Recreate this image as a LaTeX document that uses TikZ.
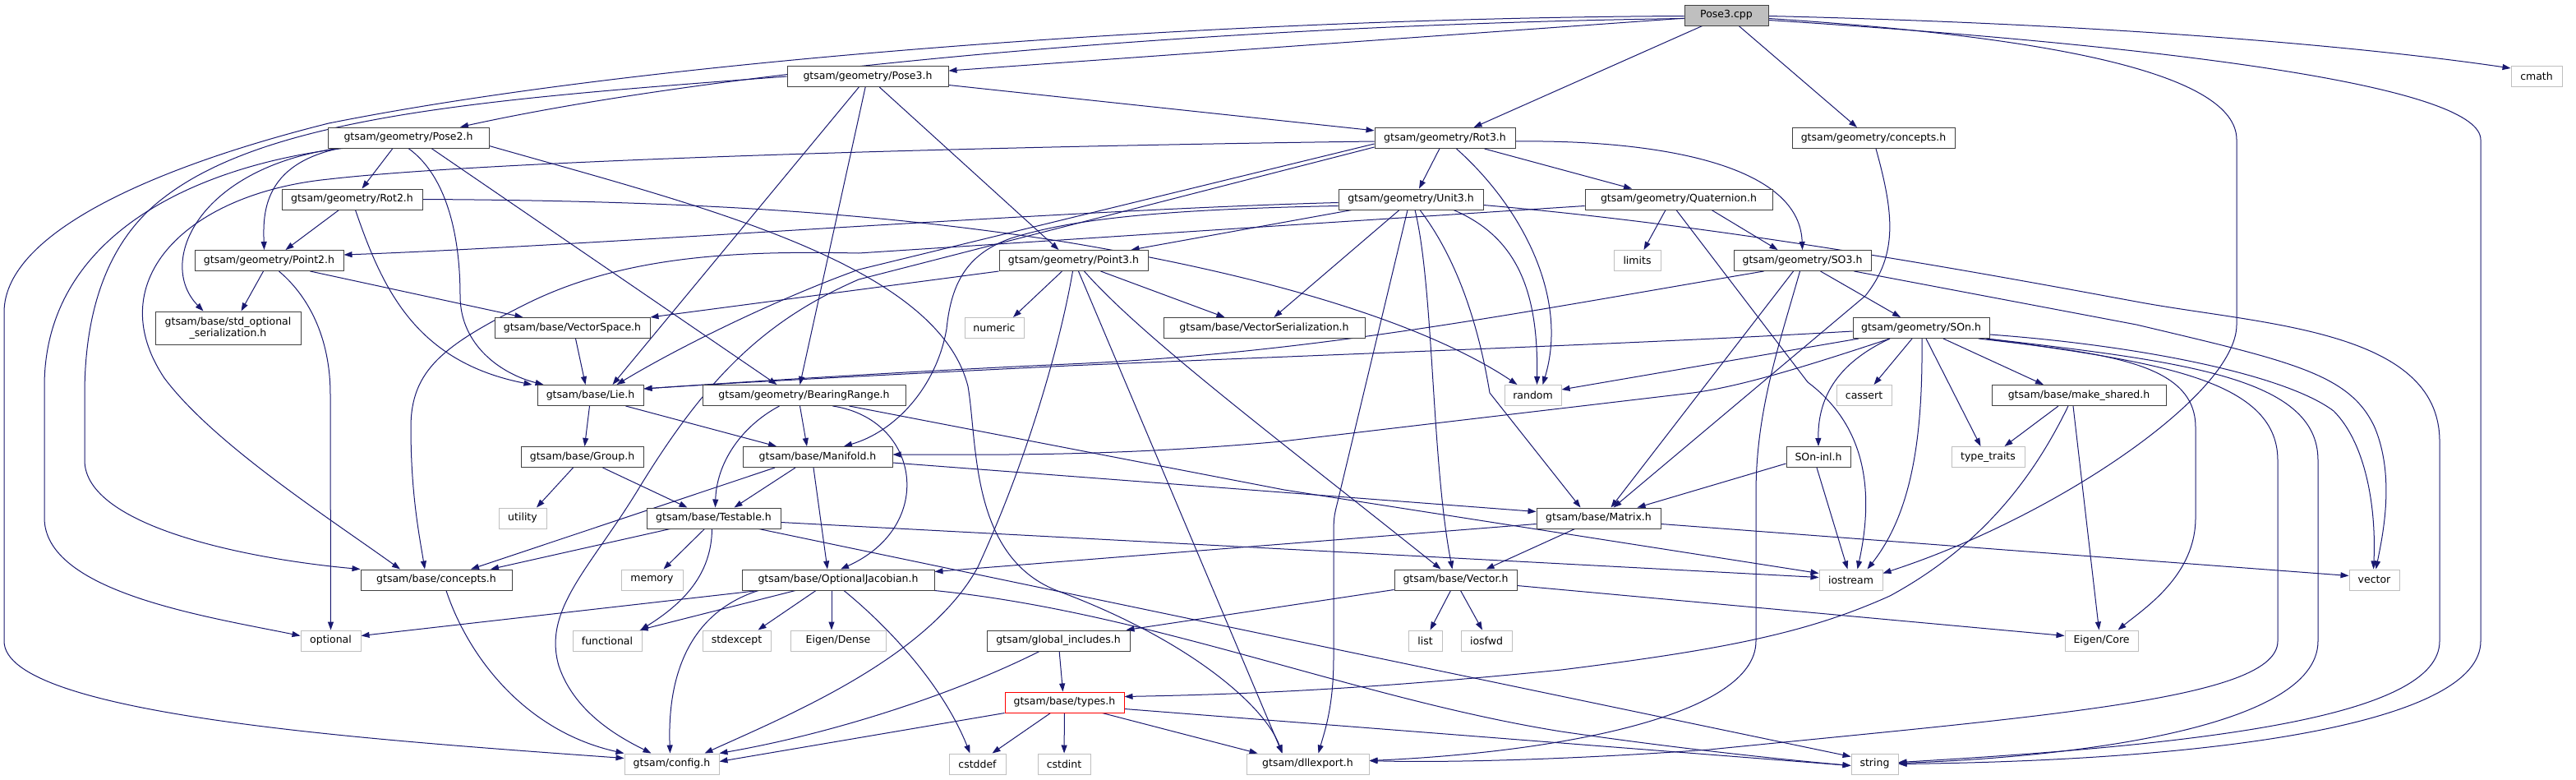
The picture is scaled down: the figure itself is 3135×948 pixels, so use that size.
\documentclass[tikz,border=0pt]{standalone}
\usepackage{fontspec}
\setmainfont{DejaVu Sans}
\usetikzlibrary{arrows.meta}
\definecolor{edgec}{HTML}{191970}
\definecolor{greyf}{HTML}{BFBFBF}
\definecolor{nodeb}{HTML}{404040}
\pgfdeclarelayer{back}
\pgfdeclarelayer{bg}
\pgfsetlayers{back,bg,main}
\newcommand{\dxfont}{\fontsize{12.5}{14}\selectfont}
\begin{document}
\begin{tikzpicture}[x=1pt,y=-1pt,
 nd/.style={rectangle,draw=nodeb,line width=1pt,fill=white,minimum height=25pt,inner sep=0pt,font=\dxfont,text=black},
 ex/.style={nd,draw=greyf},
 e/.style={draw=edgec,line width=1pt,-{Triangle[length=10pt,width=7pt]}}]
\useasboundingbox (0,0) rectangle (3135,948);
\begin{pgfonlayer}{back}
\fill[white] (0,0) rectangle (3135,948);
\end{pgfonlayer}
% nodes
\node[nd,fill=greyf,minimum width=102pt] (P3c) at (2101,18.5) {Pose3.cpp};
\node[nd,minimum width=196pt] (P3h) at (1056,93) {gtsam/geometry/Pose3.h};
\node[nd,minimum width=196pt] (P2h) at (497,167.5) {gtsam/geometry/Pose2.h};
\node[nd,minimum width=171pt] (R3) at (1758.5,168) {gtsam/geometry/Rot3.h};
\node[nd,minimum width=198pt] (GC) at (2280,168) {gtsam/geometry/concepts.h};
\node[ex,minimum width=62pt] (cmath) at (3087,93) {cmath};
\node[nd,minimum width=171pt] (R2) at (428.5,242.5) {gtsam/geometry/Rot2.h};
\node[nd,minimum width=176pt] (U3) at (1717,242.5) {gtsam/geometry/Unit3.h};
\node[nd,minimum width=228pt] (Q) at (2043,242.5) {gtsam/geometry/Quaternion.h};
\node[nd,minimum width=181pt] (Pt2) at (327.5,317) {gtsam/geometry/Point2.h};
\node[nd,minimum width=181pt] (Pt3) at (1306.5,317) {gtsam/geometry/Point3.h};
\node[ex,minimum width=57pt] (limits) at (1992.5,317) {limits};
\node[nd,minimum width=167pt] (SO3) at (2193.5,317) {gtsam/geometry/SO3.h};
\node[nd,minimum width=177pt,minimum height=40pt,align=center] (SOS) at (277.5,399) {gtsam/base/std\_optional\\\_serialization.h};
\node[nd,minimum width=189pt] (VS) at (696.5,399) {gtsam/base/VectorSpace.h};
\node[ex,minimum width=72pt] (numeric) at (1210,399) {numeric};
\node[nd,minimum width=245pt] (VSer) at (1538.5,399) {gtsam/base/VectorSerialization.h};
\node[nd,minimum width=166pt] (SOn) at (2338,399) {gtsam/geometry/SOn.h};
\node[nd,minimum width=129pt] (Lie) at (718.5,481) {gtsam/base/Lie.h};
\node[nd,minimum width=247pt] (BR) at (978.5,481) {gtsam/geometry/BearingRange.h};
\node[ex,minimum width=69pt] (random) at (1865.5,481) {random};
\node[ex,minimum width=67pt] (cassert) at (2268.5,481) {cassert};
\node[nd,minimum width=212pt] (MS) at (2530,481) {gtsam/base/make\_shared.h};
\node[nd,minimum width=149pt] (Grp) at (708.5,556) {gtsam/base/Group.h};
\node[nd,minimum width=182pt] (Man) at (995,556) {gtsam/base/Manifold.h};
\node[nd,minimum width=78pt] (SOnInl) at (2213,556) {SOn-inl.h};
\node[ex,minimum width=89pt] (tt) at (2419.5,556) {type\_traits};
\node[ex,minimum width=58pt] (util) at (636,630.5) {utility};
\node[nd,minimum width=163pt] (Test) at (868.5,630.5) {gtsam/base/Testable.h};
\node[nd,minimum width=151pt] (Mat) at (1945.5,630.5) {gtsam/base/Matrix.h};
\node[nd,minimum width=184pt] (BC) at (531,705.5) {gtsam/base/concepts.h};
\node[ex,minimum width=75pt] (memory) at (793.5,705.5) {memory};
\node[nd,minimum width=234pt] (OJ) at (1020,705.5) {gtsam/base/OptionalJacobian.h};
\node[nd,minimum width=149pt] (Vec) at (1771.5,705.5) {gtsam/base/Vector.h};
\node[ex,minimum width=77pt] (iostream) at (2252.5,705.5) {iostream};
\node[ex,minimum width=61pt] (vector) at (2889.5,705.5) {vector};
\node[ex,minimum width=73pt] (optional) at (402.5,779.5) {optional};
\node[ex,minimum width=84pt] (functional) at (739,779.5) {functional};
\node[ex,minimum width=83pt] (stdexcept) at (896.5,779.5) {stdexcept};
\node[ex,minimum width=116pt] (EDense) at (1020,779.5) {Eigen/Dense};
\node[nd,minimum width=174pt] (GI) at (1288,779.5) {gtsam/global\_includes.h};
\node[ex,minimum width=41pt] (list) at (1734.5,779.5) {list};
\node[ex,minimum width=62pt] (iosfwd) at (1809,779.5) {iosfwd};
\node[ex,minimum width=89pt] (ECore) at (2557.5,779.5) {Eigen/Core};
\node[nd,draw=red,minimum width=145pt] (types) at (1295.5,854.5) {gtsam/base/types.h};
\node[ex,minimum width=115pt] (config) at (817.5,929.5) {gtsam/config.h};
\node[ex,minimum width=69pt] (cstddef) at (1189.5,929.5) {cstddef};
\node[ex,minimum width=64pt] (cstdint) at (1295,929.5) {cstdint};
\node[ex,minimum width=149pt] (dll) at (1591.5,929.5) {gtsam/dllexport.h};
\node[ex,minimum width=57pt] (string) at (2281.5,929.5) {string};
\begin{pgfonlayer}{bg}
% Pose3.cpp
\draw[e] (P3c) -- (P3h);
\draw[e] ([yshift=-4pt]P3c.west) .. controls (1500,30) and (900,80) .. ([xshift=63pt]P2h.north);
\draw[e] (P3c) -- ([xshift=35pt]R3.north);
\draw[e] (P3c) -- ([xshift=-20pt]GC.north);
\draw[e] ([yshift=-1pt]P3c.east) .. controls (2600,30) and (2900,60) .. ([yshift=10pt]cmath.west);
\draw[e] ([yshift=-4pt]P3c.east) .. controls (2500,45) and (2722,90) .. (2722,170) -- (2722,395) .. controls (2722,480) and (2500,630) .. ([yshift=8pt]iostream.east);
\draw[e] ([yshift=-6pt]P3c.east) .. controls (2700,60) and (3019,110) .. (3019,170) -- (3019,780) .. controls (3019,880) and (2700,925) .. (string.east);
\draw[e] ([yshift=-1pt]P3c.west) .. controls (1500,22) and (800,70) .. (400,150) .. controls (200,200) and (5,280) .. (5,380) -- (5,780) .. controls (5,870) and (450,900) .. ([yshift=7pt]config.west);
% Pose3.h
\draw[e] (P3h) -- (R3);
\draw[e] (P3h) -- ([xshift=-18pt]Pt3.north);
\draw[e] (P3h) -- ([xshift=-5pt]BR.north);
\draw[e] (P3h) -- ([xshift=27pt]Lie.north);
\draw[e] (P3h.west) .. controls (600,120) and (330,140) .. (200,240) .. controls (120,300) and (103,400) .. (103,480) -- (103,560) .. controls (103,640) and (300,680) .. (BC.north west);
% Pose2.h
\draw[e] ([xshift=-19pt]P2h.south) -- ([xshift=12pt]R2.north);
\draw[e] ([xshift=-84pt]P2h.south) .. controls (320,200) and (320,260) .. ([xshift=-6pt]Pt2.north);
\draw[e] ([xshift=-86pt]P2h.south) .. controls (240,205) and (190,320) .. ([xshift=-30pt]SOS.north);
\draw[e] ([xshift=-80pt]P2h.south) .. controls (250,200) and (54,280) .. (54,470) -- (54,630) .. controls (54,720) and (250,750) .. ([yshift=6pt]optional.west);
\draw[e] (P2h.south) .. controls (545,215) and (560,290) .. (560,360) .. controls (560,420) and (610,455) .. ([xshift=-57pt]Lie.north);
\draw[e] ([xshift=28pt]P2h.south) -- ([xshift=-33pt]BR.north);
\draw[e] ([yshift=-10pt]P2h.east) .. controls (850,250) and (1140,320) .. (1178,470) .. controls (1190,540) and (1180,680) .. (1290,720) .. controls (1450,780) and (1540,860) .. ([xshift=-31pt]dll.north);
% Rot2.h
\draw[e] ([xshift=-16pt]R2.south) -- ([xshift=20pt]Pt2.north);
\draw[e] ([xshift=4pt]R2.south) .. controls (465,350) and (505,440) .. ([xshift=-71pt]Lie.north);
\draw[e] (R2.east) .. controls (800,244) and (1050,255) .. (1300,295) .. controls (1600,345) and (1760,410) .. ([xshift=-19pt]random.north);
% Rot3.h
\draw[e] (R3) -- ([xshift=10pt]U3.north);
\draw[e] (R3) -- ([xshift=-57pt]Q.north);
\draw[e] ([yshift=-4pt]R3.east) .. controls (2000,170) and (2190,195) .. (SO3.north);
\draw[e] ([yshift=-4pt]R3.west) .. controls (1200,178) and (600,195) .. (400,218) .. controls (230,235) and (120,340) .. (200,460) .. controls (260,540) and (400,630) .. ([xshift=-44pt]BC.north);
\draw[e] ([yshift=-7pt]R3.west) -- (1045,328) .. controls (950,362) and (830,420) .. ([xshift=32pt]Lie.north);
\draw[e] ([yshift=-11pt]R3.west) -- (1045,340) .. controls (930,390) and (860,460) .. (780,590) .. controls (720,690) and (660,740) .. (680,810) .. controls (700,870) and (760,900) .. ([xshift=-25pt]config.north);
\draw[e] ([xshift=14pt]R3.south) .. controls (1850,250) and (1910,360) .. ([xshift=12pt]random.north);
% Unit3.h
\draw[e] ([yshift=-4pt]U3.west) .. controls (1300,255) and (700,300) .. ([yshift=7pt]Pt2.east);
\draw[e] (U3) -- ([xshift=70pt]Pt3.north);
\draw[e] ([yshift=-8pt]U3.west) .. controls (1400,255) and (1300,268) .. (1230,290) .. controls (1180,308) and (1158,340) .. (1152,400) .. controls (1140,470) and (1090,525) .. ([xshift=32pt]Man.north);
\draw[e] ([xshift=11pt]U3.south) .. controls (1785,330) and (1805,430) .. (1813,478) -- ([xshift=-22pt]Mat.north);
\draw[e] ([xshift=5pt]U3.south) .. controls (1745,350) and (1742,560) .. ([xshift=-4pt]Vec.north);
\draw[e] ([xshift=-14pt]U3.south) -- ([xshift=12pt]VSer.north);
\draw[e] ([xshift=-4pt]U3.south) -- (1628,610) .. controls (1623,630) .. (1623,660) -- (1623,800) .. controls (1623,860) and (1612,890) .. ([xshift=13pt]dll.north);
\draw[e] ([xshift=52pt]U3.south) .. controls (1850,290) and (1872,360) .. ([xshift=5pt]random.north);
\draw[e] ([yshift=-7pt]U3.east) .. controls (2100,275) and (2400,330) .. (2600,367) .. controls (2750,395) and (2969,400) .. (2969,537) -- (2969,780) .. controls (2969,870) and (2700,905) .. ([yshift=2pt]string.east);
% Quaternion.h
\draw[e] ([xshift=40pt]Q.south) -- ([xshift=-30pt]SO3.north);
\draw[e] ([xshift=-16pt]Q.south) -- ([xshift=8pt]limits.north);
\draw[e] ([yshift=-8pt]Q.west) -- (1045,308) .. controls (900,305) and (760,310) .. (640,370) .. controls (540,420) and (500,450) .. (500,520) .. controls (500,600) and (510,650) .. ([xshift=-14pt]BC.north);
\draw[e] ([xshift=-3pt]Q.south) -- (2200,465) .. controls (2260,510) and (2285,580) .. ([xshift=8pt]iostream.north);
% Point2.h
\draw[e] ([xshift=-7pt]Pt2.south) -- ([xshift=16pt]SOS.north);
\draw[e] ([xshift=12pt]Pt2.south) .. controls (375,360) and (402,410) .. (402,480) -- (optional.north);
\draw[e] ([xshift=50pt]Pt2.south) -- ([xshift=-60pt]VS.north);
% Point3.h
\draw[e] (Pt3.south west) -- (VS.north east);
\draw[e] ([xshift=-14pt]Pt3.south) -- ([xshift=23pt]numeric.north);
\draw[e] ([xshift=33pt]Pt3.south) -- ([xshift=-48pt]VSer.north);
\draw[e] ([xshift=13pt]Pt3.south) .. controls (1390,410) and (1550,530) .. ([xshift=-18pt]Vec.north);
\draw[e] ([xshift=6pt]Pt3.south) -- ([xshift=-31pt]dll.north);
\draw[e] ([xshift=-1pt]Pt3.south) .. controls (1290,420) and (1250,560) .. (1190,690) .. controls (1130,800) and (960,870) .. ([xshift=40pt]config.north);
% SO3.h
\draw[e] ([xshift=22pt]SO3.south) -- ([xshift=-25pt]SOn.north);
\draw[e] ([xshift=-47pt]SO3.south) .. controls (1850,380) and (1600,430) .. (1300,443) .. controls (1100,452) and (900,465) .. ([yshift=8pt]Lie.east);
\draw[e] ([xshift=-11pt]SO3.south) -- ([xshift=15pt]Mat.north);
\draw[e] ([xshift=-3pt]SO3.south) .. controls (2165,420) and (2137,500) .. (2137,600) -- (2137,780) .. controls (2137,870) and (1900,915) .. ([yshift=4pt]dll.east);
\draw[e] ([xshift=63pt]SO3.south) -- (2600,395) .. controls (2790,440) and (2860,455) .. (2890,520) .. controls (2915,580) and (2900,650) .. ([xshift=2pt]vector.north);
% SOn.h
\draw[e] ([yshift=-4pt]SOn.west) .. controls (2000,418) and (1700,428) .. (1300,445) .. controls (1100,455) and (900,465) .. ([yshift=8pt]Lie.east);
\draw[e] ([xshift=-76pt]SOn.south) -- ([yshift=7pt]random.east);
\draw[e] ([xshift=-38pt]SOn.south) .. controls (2200,445) and (2120,470) .. (2060,478) -- (1560,537) .. controls (1350,556) and (1200,553) .. ([yshift=3pt]Man.east);
\draw[e] ([xshift=-11pt]SOn.south) -- ([xshift=12pt]cassert.north);
\draw[e] ([xshift=-38pt]SOn.south) .. controls (2240,440) and (2212,480) .. (SOnInl.north);
\draw[e] ([xshift=1pt]SOn.south) .. controls (2340,520) and (2330,620) .. ([xshift=20pt]iostream.north);
\draw[e] ([xshift=6pt]SOn.south) -- ([xshift=-9pt]tt.north);
\draw[e] ([xshift=27pt]SOn.south) -- ([xshift=-43pt]MS.north);
\draw[e] ([yshift=-8pt]SOn.east) .. controls (2600,420) and (2780,455) .. (2840,500) .. controls (2880,540) and (2892,620) .. ([xshift=-1pt]vector.north);
\draw[e] ([xshift=70pt]SOn.south) .. controls (2560,430) and (2672,440) .. (2672,520) -- (2672,630) .. controls (2672,700) and (2610,740) .. ([xshift=20pt]ECore.north);
\draw[e] ([xshift=79pt]SOn.south) .. controls (2620,440) and (2772,460) .. (2772,560) -- (2772,780) .. controls (2772,850) and (2500,870) .. (2080,912) .. controls (1900,925) and (1750,928) .. ([yshift=4pt]dll.east);
\draw[e] ([xshift=80pt]SOn.south) .. controls (2660,440) and (2821,460) .. (2821,560) -- (2821,780) .. controls (2821,890) and (2500,922) .. ([yshift=1pt]string.east);
% geometry/concepts.h
\draw[e] ([xshift=3pt]GC.south) .. controls (2305,260) and (2310,310) .. (2270,360) -- ([xshift=18pt]Mat.north);
% VectorSpace.h
\draw[e] ([xshift=4pt]VS.south) -- ([xshift=-6pt]Lie.north);
% Lie.h
\draw[e] ([xshift=-1pt]Lie.south) -- ([xshift=3pt]Grp.north);
\draw[e] ([xshift=43pt]Lie.south) -- ([xshift=-50pt]Man.north);
% BearingRange.h
\draw[e] ([xshift=-5pt]BR.south) -- ([xshift=-13pt]Man.north);
\draw[e] ([xshift=-30pt]BR.south) .. controls (900,520) and (872,565) .. ([xshift=2pt]Test.north);
\draw[e] ([xshift=35pt]BR.south) .. controls (1120,510) and (1140,640) .. ([xshift=3pt]OJ.north);
\draw[e] ([xshift=55pt]BR.south) -- (1563,596) -- ([yshift=8pt]iostream.west);
% Group.h
\draw[e] ([xshift=-11pt]Grp.south) -- ([xshift=17pt]util.north);
\draw[e] ([xshift=25pt]Grp.south) -- ([xshift=-32pt]Test.north);
% Manifold.h
\draw[e] ([xshift=-27pt]Man.south) -- ([xshift=25pt]Test.north);
\draw[e] ([xshift=-5pt]Man.south) -- ([xshift=-13pt]OJ.north);
\draw[e] ([yshift=-7pt]Man.east) -- ([yshift=8pt]Mat.west);
\draw[e] ([xshift=-52pt]Man.south) -- ([xshift=42pt]BC.north);
% Testable.h
\draw[e] ([xshift=-53pt]Test.south) -- ([xshift=66pt]BC.north);
\draw[e] ([xshift=-11pt]Test.south) -- ([xshift=14pt]memory.north);
\draw[e] ([xshift=-2pt]Test.south) .. controls (866,700) and (830,735) .. ([xshift=-2pt]functional.north east);
\draw[e] ([yshift=-5pt]Test.east) -- ([yshift=3pt]iostream.west);
\draw[e] ([xshift=55pt]Test.south) -- ([yshift=9pt]string.west);
% SOn-inl.h
\draw[e] ([yshift=-8pt]SOnInl.west) -- ([xshift=47pt]Mat.north);
\draw[e] ([xshift=-2pt]SOnInl.south) -- ([xshift=-4pt]iostream.north);
% make_shared.h
\draw[e] ([xshift=-25pt]MS.south) -- ([xshift=20pt]tt.north);
\draw[e] ([xshift=-7pt]MS.south) -- ([xshift=-3pt]ECore.north);
\draw[e] ([xshift=-13pt]MS.south) .. controls (2480,570) and (2420,660) .. (2300,725) .. controls (2200,770) and (2100,790) .. (1900,815) .. controls (1650,840) and (1500,845) .. ([yshift=7pt]types.east);
% Matrix.h
\draw[e] ([xshift=-29pt]Mat.south) -- ([xshift=37pt]Vec.north);
\draw[e] ([yshift=-7pt]Mat.west) -- ([yshift=10pt]OJ.east);
\draw[e] ([yshift=-7pt]Mat.east) -- ([yshift=5pt]vector.west);
% Vector.h
\draw[e] ([xshift=-6pt]Vec.south) -- ([xshift=6pt]list.north);
\draw[e] ([xshift=6pt]Vec.south) -- ([xshift=-5pt]iosfwd.north);
\draw[e] ([yshift=-12pt]Vec.west) -- ([xshift=-5pt]GI.north east);
\draw[e] ([yshift=-7pt]Vec.east) -- ([yshift=6pt]ECore.west);
% OptionalJacobian.h
\draw[e] ([xshift=-97pt]OJ.south) -- ([yshift=6pt]optional.east);
\draw[e] ([xshift=-52pt]OJ.south) -- ([xshift=-3pt]functional.north east);
\draw[e] ([xshift=-27pt]OJ.south) -- ([xshift=26pt]stdexcept.north);
\draw[e] ([xshift=-8pt]OJ.south) -- ([xshift=-8pt]EDense.north);
\draw[e] ([xshift=-97pt]OJ.south) .. controls (840,745) and (812,820) .. ([xshift=-2pt]config.north);
\draw[e] ([xshift=7pt]OJ.south) .. controls (1090,770) and (1150,840) .. ([xshift=-9pt]cstddef.north);
\draw[e] (OJ.south east) .. controls (1400,745) and (1650,850) .. (1900,890) .. controls (2050,912) and (2180,925) .. ([yshift=-2pt]string.west);
% global_includes.h
\draw[e] (GI) -- ([xshift=-2pt]types.north);
\draw[e] ([xshift=-23pt]GI.south) .. controls (1150,850) and (1000,895) .. (config.north east);
% types.h
\draw[e] (types.south west) -- ([yshift=3pt]config.east);
\draw[e] ([xshift=-17pt]types.south) -- ([xshift=18pt]cstddef.north);
\draw[e] (types) -- (cstdint);
\draw[e] ([xshift=46pt]types.south) -- ([xshift=-61pt]dll.north);
\draw[e] ([yshift=-8pt]types.east) -- ([yshift=-2pt]string.west);
% base/concepts.h
\draw[e] ([xshift=12pt]BC.south) .. controls (570,800) and (640,890) .. (config.north west);
\end{pgfonlayer}
\end{tikzpicture}
\end{document}
